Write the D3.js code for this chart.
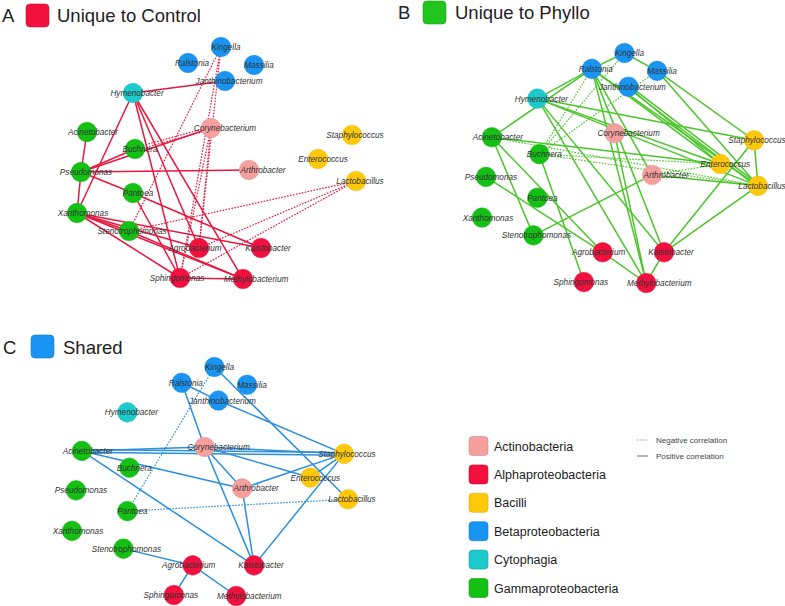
<!DOCTYPE html>
<html><head><meta charset="utf-8">
<script src="https://cdn.jsdelivr.net/npm/d3@7/dist/d3.min.js"></script>
<style>
body{margin:0;background:#fff;}
svg{display:block;font-family:"Liberation Sans",Arial,sans-serif;}
</style>
</head><body>
<svg id="chart" width="785" height="606"></svg>
<script>
// ---------- DATA ----------
const taxa = ["Actinobacteria","Alphaproteobacteria","Bacilli","Betaproteobacteria","Cytophagia","Gammaproteobacteria"];
const taxaColors = ["#F5A09E","#F2103F","#FFC90A","#1A94F2","#1CC9CB","#14C014"];

const nodeNames = ["Kingella","Ralstonia","Massilia","Janthinobacterium","Hymenobacter","Corynebacterium",
  "Acinetobacter","Buchnera","Pseudomonas","Arthrobacter","Pantoea","Xanthomonas","Stenotrophomonas",
  "Agrobacterium","Kaistobacter","Sphingomonas","Methylobacterium","Staphylococcus","Enterococcus","Lactobacillus"];
const nodeTaxa = ["Betaproteobacteria","Betaproteobacteria","Betaproteobacteria","Betaproteobacteria","Cytophagia","Actinobacteria",
  "Gammaproteobacteria","Gammaproteobacteria","Gammaproteobacteria","Actinobacteria","Gammaproteobacteria","Gammaproteobacteria","Gammaproteobacteria",
  "Alphaproteobacteria","Alphaproteobacteria","Alphaproteobacteria","Alphaproteobacteria","Bacilli","Bacilli","Bacilli"];
// network layout (shared by all three panels), in layout units
const layoutX = [221,188,254,225,133,211,87,135,81,249,133,77,129,199,261,180,243,352,318,356];
const layoutY = [47,63,65,81,93,128,132,149,172,170,193,213,231,248,248,278,279,135,159,181];
const labelShift = [5,4,5,4,4,14,6,5,5,14,5,6,3,-4,7,-3,13,3,5,4];

// edges: [source, target, sign]  (+1 positive correlation, -1 negative correlation)
const edgesControl = [
  ["Hymenobacter","Janthinobacterium",1],["Hymenobacter","Xanthomonas",1],["Hymenobacter","Sphingomonas",1],
  ["Hymenobacter","Agrobacterium",1],["Hymenobacter","Methylobacterium",1],
  ["Acinetobacter","Pseudomonas",1],["Pseudomonas","Buchnera",1],["Pseudomonas","Corynebacterium",1],
  ["Pseudomonas","Arthrobacter",1],["Pseudomonas","Pantoea",1],["Pseudomonas","Xanthomonas",1],
  ["Pantoea","Kaistobacter",1],["Pantoea","Sphingomonas",1],
  ["Xanthomonas","Stenotrophomonas",1],["Xanthomonas","Agrobacterium",1],["Xanthomonas","Kaistobacter",1],
  ["Xanthomonas","Methylobacterium",1],["Xanthomonas","Sphingomonas",1],
  ["Stenotrophomonas","Methylobacterium",1],["Sphingomonas","Methylobacterium",1],
  ["Kingella","Stenotrophomonas",-1],["Kingella","Agrobacterium",-1],["Kingella","Sphingomonas",-1],
  ["Corynebacterium","Buchnera",-1],["Corynebacterium","Buchnera",-1],
  ["Corynebacterium","Agrobacterium",-1],["Corynebacterium","Sphingomonas",-1],
  ["Lactobacillus","Stenotrophomonas",-1],["Lactobacillus","Agrobacterium",-1],["Lactobacillus","Sphingomonas",-1]
];
const edgesPhyllo = [
  ["Kingella","Ralstonia",1],["Kingella","Massilia",1],["Ralstonia","Hymenobacter",1],["Ralstonia","Acinetobacter",1],
  ["Ralstonia","Arthrobacter",1],["Ralstonia","Kaistobacter",1],["Ralstonia","Methylobacterium",1],
  ["Ralstonia","Enterococcus",1],["Ralstonia","Lactobacillus",1],
  ["Janthinobacterium","Enterococcus",1],["Janthinobacterium","Lactobacillus",1],["Janthinobacterium","Lactobacillus",1],
  ["Massilia","Staphylococcus",1],["Massilia","Lactobacillus",1],
  ["Hymenobacter","Staphylococcus",1],["Hymenobacter","Enterococcus",1],["Hymenobacter","Lactobacillus",1],
  ["Hymenobacter","Kaistobacter",1],["Hymenobacter","Methylobacterium",1],
  ["Acinetobacter","Enterococcus",1],["Acinetobacter","Stenotrophomonas",1],["Acinetobacter","Agrobacterium",1],
  ["Buchnera","Sphingomonas",1],["Pseudomonas","Agrobacterium",1],["Stenotrophomonas","Arthrobacter",1],
  ["Corynebacterium","Methylobacterium",1],["Arthrobacter","Lactobacillus",1],
  ["Kaistobacter","Staphylococcus",1],["Kaistobacter","Lactobacillus",1],["Kaistobacter","Methylobacterium",1],
  ["Agrobacterium","Methylobacterium",1],["Staphylococcus","Lactobacillus",1],
  ["Buchnera","Ralstonia",-1],["Buchnera","Kingella",-1],["Buchnera","Massilia",-1],
  ["Buchnera","Enterococcus",-1],["Buchnera","Lactobacillus",-1],["Acinetobacter","Lactobacillus",-1],
  ["Arthrobacter","Enterococcus",-1]
];
const edgesShared = [
  ["Kingella","Lactobacillus",1],["Ralstonia","Janthinobacterium",1],["Ralstonia","Corynebacterium",1],
  ["Janthinobacterium","Staphylococcus",1],["Acinetobacter","Corynebacterium",1],
  ["Acinetobacter","Staphylococcus",1],["Acinetobacter","Staphylococcus",1],
  ["Acinetobacter","Arthrobacter",1],["Acinetobacter","Kaistobacter",1],
  ["Corynebacterium","Staphylococcus",1],["Corynebacterium","Enterococcus",1],["Corynebacterium","Arthrobacter",1],
  ["Corynebacterium","Kaistobacter",1],["Arthrobacter","Staphylococcus",1],["Arthrobacter","Kaistobacter",1],
  ["Enterococcus","Staphylococcus",1],["Kaistobacter","Staphylococcus",1],
  ["Stenotrophomonas","Agrobacterium",1],["Agrobacterium","Sphingomonas",1],["Agrobacterium","Methylobacterium",1],
  ["Kingella","Pantoea",-1],["Pantoea","Lactobacillus",-1]
];
const panelLetters = ["A","B","C"];
const panelTitles = ["Unique to Control","Unique to Phyllo","Shared"];
const correlationLabels = ["Negative correlation","Positive correlation"];

// ---------- DRAW ----------
const svg = d3.select("#chart");
const color = d3.scaleOrdinal().domain(taxa).range(taxaColors);
const nodes = nodeNames.map((n,i)=>({name:n, taxon:nodeTaxa[i], lx:layoutX[i], ly:layoutY[i], shift:labelShift[i]}));
const byName = new Map(nodes.map(d=>[d.name,d]));

const panels = [
  {edges:edgesControl, edgeColor:"#E8173F", swatch:"#F2103F", xr:[77,356], yr:[47,279],
   head:{lx:2, sx:26, sy:4, tx:57, by:22}},
  {edges:edgesPhyllo, edgeColor:"#4CC52A", swatch:"#22C41E", xr:[482,758], yr:[53,283],
   head:{lx:398, sx:423, sy:1, tx:455, by:19}},
  {edges:edgesShared, edgeColor:"#2B8FE0", swatch:"#1A94F2", xr:[72,348], yr:[367,596],
   head:{lx:3, sx:31, sy:335, tx:63, by:354}}
];

panels.forEach((p,pi)=>{
  const x = d3.scaleLinear().domain([77,356]).range(p.xr);
  const y = d3.scaleLinear().domain([47,279]).range(p.yr);
  const g = svg.append("g");

  // header
  g.append("text").attr("x",p.head.lx).attr("y",p.head.by).attr("font-size",18.5).attr("fill","#222").text(panelLetters[pi]);
  g.append("rect").attr("x",p.head.sx).attr("y",p.head.sy).attr("width",23).attr("height",23).attr("rx",4)
    .attr("fill",p.swatch).attr("stroke",d3.color(p.swatch).darker(0.5)).attr("stroke-width",0.6);
  g.append("text").attr("x",p.head.tx).attr("y",p.head.by).attr("font-size",18.5).attr("fill","#222").text(panelTitles[pi]);

  // edges (duplicates offset perpendicular)
  const counts = new Map();
  const edgeData = p.edges.map(e=>{
    const key=[e[0],e[1]].sort().join("|");
    const k=(counts.get(key)||0); counts.set(key,k+1);
    return {s:byName.get(e[0]), t:byName.get(e[1]), sign:e[2], key, k};
  });
  edgeData.forEach(d=>{ d.n = counts.get(d.key); });
  g.append("g").selectAll("line").data(edgeData).join("line")
    .each(function(d){
      let x1=x(d.s.lx), y1=y(d.s.ly), x2=x(d.t.lx), y2=y(d.t.ly);
      const off=(d.k-(d.n-1)/2)*2.6;
      const len=Math.hypot(x2-x1,y2-y1)||1;
      const nx=-(y2-y1)/len*off, ny=(x2-x1)/len*off;
      d3.select(this).attr("x1",x1+nx).attr("y1",y1+ny).attr("x2",x2+nx).attr("y2",y2+ny);
    })
    .attr("stroke",p.edgeColor)
    .attr("stroke-width",d=>d.sign>0?1.5:1.2)
    .attr("stroke-dasharray",d=>d.sign>0?null:"1.6,1.4");

  // nodes
  g.append("g").selectAll("circle").data(nodes).join("circle")
    .attr("cx",d=>x(d.lx)).attr("cy",d=>y(d.ly)).attr("r",9.8)
    .attr("fill",d=>color(d.taxon))
    .attr("stroke",d=>d3.color(color(d.taxon)).darker(0.25)).attr("stroke-width",0.5);

  // labels
  g.append("g").selectAll("text").data(nodes).join("text")
    .attr("x",d=>x(d.lx)+d.shift).attr("y",d=>y(d.ly)+3)
    .attr("text-anchor","middle").attr("font-size",8.2).attr("font-style","italic")
    .attr("fill","#333").text(d=>d.name);
});

// taxon legend
const lg = svg.append("g");
const ly = d3.scalePoint().domain(taxa).range([446,588]);
taxa.forEach(t=>{
  lg.append("rect").attr("x",469).attr("y",ly(t)-9.5).attr("width",19).attr("height",19).attr("rx",3.5)
    .attr("fill",color(t)).attr("stroke",d3.color(color(t)).darker(0.5)).attr("stroke-width",0.6);
  lg.append("text").attr("x",494).attr("y",ly(t)+4.5).attr("font-size",12.5).attr("fill","#222").text(t);
});

// correlation legend
const cl = svg.append("g");
correlationLabels.forEach((t,i)=>{
  const yy = 440 + i*16;
  cl.append("line").attr("x1",637).attr("x2",648).attr("y1",yy).attr("y2",yy)
    .attr("stroke","#777").attr("stroke-width",i===0?0.8:1.1).attr("stroke-dasharray",i===0?"1.5,1.2":null);
  cl.append("text").attr("x",656).attr("y",yy+3).attr("font-size",8).attr("fill","#444").text(t);
});
</script>
</body></html>
